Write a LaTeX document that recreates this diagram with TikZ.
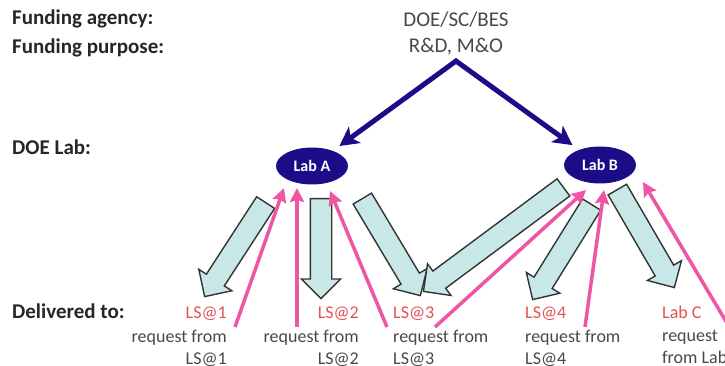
\documentclass[tikz,border=0pt]{standalone}
\usepackage{fontspec}
\setmainfont{Carlito}
\usetikzlibrary{arrows.meta,shapes.geometric,shapes.arrows,calc}
\definecolor{labnavy}{RGB}{28,12,136}
\definecolor{reqpink}{RGB}{240,84,164}
\definecolor{lsred}{RGB}{228,82,82}
\definecolor{flowfill}{RGB}{200,232,232}
\definecolor{txtgrey}{RGB}{72,72,72}
\tikzset{
 hdr/.style={anchor=base west,inner sep=0pt,text=black!85,font=\fontsize{21}{25}\selectfont\bfseries},
 src/.style={anchor=base,inner sep=0pt,text=txtgrey,font=\fontsize{21}{25}\selectfont},
 lab/.style={ellipse,fill=labnavy,minimum width=72pt,minimum height=37pt,inner sep=0pt,text=white,font=\fontsize{16}{18}\selectfont\bfseries},
 dest/.style={inner sep=0pt,text=lsred,font=\fontsize{18}{22}\selectfont},
 req/.style={inner sep=0pt,text=txtgrey,font=\fontsize{18}{22}\selectfont},
 fund/.style={draw=labnavy,line width=5pt,{Stealth[length=19pt,width=20pt,inset=5pt]}-{Stealth[length=19pt,width=20pt,inset=5pt]},shorten <=8pt,shorten >=8pt},
 ask/.style={draw=reqpink,line width=3.5pt,-{Stealth[length=14pt,width=14pt,inset=2pt]}},
 flow/.style={single arrow,draw=black!80,fill=flowfill,line width=1.4pt,inner sep=0pt,inner ysep=10pt,single arrow head extend=9pt}
}
\begin{document}
\begin{tikzpicture}[x=1pt,y=-1pt]
 \useasboundingbox (0,0) rectangle (725,366);
 \node[hdr] (agency) at (12,25) {Funding agency:};
 \node[hdr] (purpose) at (12,54) {Funding purpose:};
 \node[hdr] (doelab) at (12,155) {DOE Lab:};
 \node[hdr] (delivered) at (12,318) {Delivered to:};
 \node[src] (doe) at (456,27) {DOE/SC/BES};
 \node[src] (rnd) at (456,53) {R\&D, M\&O};
 \coordinate (apex) at (456,61);
 \node[lab] (labA) at (312,166) {Lab A};
 \node[lab] (labB) at (600,165) {Lab B};
 \draw[fund] (labA) -- (apex) -- (labB);
 \node[dest,anchor=base east] (ls1) at (227,318) {LS@1};
 \node[dest,anchor=base east] (ls2) at (359,318) {LS@2};
 \node[dest,anchor=base west] (ls3) at (393,318) {LS@3};
 \node[dest,anchor=base west] (ls4) at (525,318) {LS@4};
 \node[dest,anchor=base west] (labC) at (662,318) {Lab C};
 \node[req,anchor=north east,align=right] (req1) at (227,330) {request from\\LS@1};
 \node[req,anchor=north east,align=right] (req2) at (359,330) {request from\\LS@2};
 \node[req,anchor=north west,align=left] (req3) at (393,330) {request from\\LS@3};
 \node[req,anchor=north west,align=left] (req4) at (525,330) {request from\\LS@4};
 \node[req,anchor=north west,align=left] (req5) at (662,330) {request\\from Lab C};
 \coordinate (b1s) at (266,202); \coordinate (b1t) at (205,296);
 \coordinate (b2s) at (321,198); \coordinate (b2t) at (321,298);
 \coordinate (b3s) at (362,198); \coordinate (b3t) at (420,295);
 \coordinate (b4s) at (564,187); \coordinate (b4t) at (424,291);
 \coordinate (b5s) at (592,204); \coordinate (b5t) at (533,299);
 \coordinate (b6s) at (617,189); \coordinate (b6t) at (674,287);
 \foreach \s/\t/\k in {b1s/b1t/1,b2s/b2t/2,b3s/b3t/3,b4s/b4t/4,b5s/b5t/5,b6s/b6t/6}
  \path let \p1=($(\t)-(\s)$), \n1={veclen(\x1,\y1)}, \n2={atan2(\y1,\x1)} in
   node[flow,minimum height=\n1,rotate=\n2,anchor=tail] (flow\k) at (\s) {};
 \coordinate (r1) at (235,327); \coordinate (t1) at (284,188);
 \coordinate (r2) at (297,327); \coordinate (t2) at (297,188);
 \coordinate (r3) at (387,327); \coordinate (t3) at (330,191);
 \coordinate (r4) at (435,327); \coordinate (t4) at (586,190);
 \coordinate (r5) at (585,327); \coordinate (t5) at (604,190);
 \coordinate (r6) at (740,345); \coordinate (t6) at (643,182);
 \foreach \k in {1,...,6}
  \draw[ask] (r\k) -- (t\k);
\end{tikzpicture}
\end{document}
